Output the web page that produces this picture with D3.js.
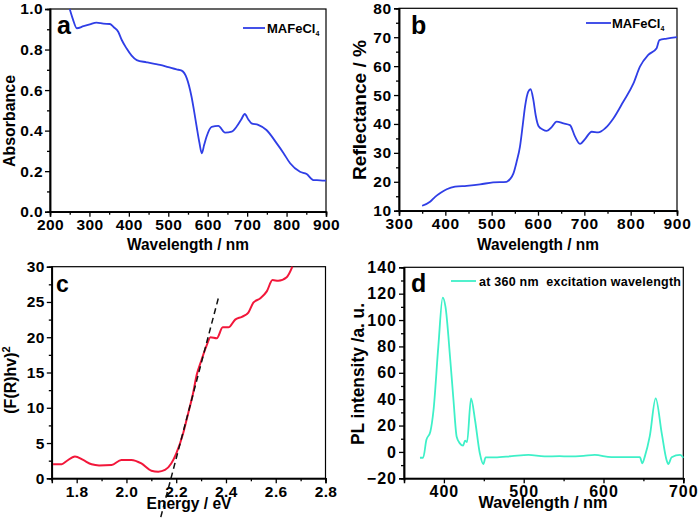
<!DOCTYPE html>
<html><head><meta charset="utf-8">
<script src="https://cdn.jsdelivr.net/npm/d3@7"></script>
<style>
html,body{margin:0;padding:0;background:#fff;}
svg text{font-family:"Liberation Sans",Arial,sans-serif;font-weight:bold;fill:#000;}
</style></head>
<body>
<svg id="chart" width="698" height="520"></svg>
<script>
// ---- Panel a: absorbance ----
const aWavelength = [250,258,268,285,301,318,335,352,362,373,382,394,407,420,445,462,479,500,521,534,547,559,566,572,579,585,591,597,610,627,644,661,673,685,694,703,711,728,749,775,792,809,834,851,868,885,900];
const aAbsorbance = [1.0,0.95,0.905,0.915,0.924,0.933,0.928,0.926,0.91,0.888,0.847,0.806,0.77,0.748,0.737,0.730,0.724,0.713,0.702,0.696,0.658,0.567,0.49,0.419,0.34,0.288,0.33,0.37,0.419,0.423,0.39,0.395,0.419,0.455,0.482,0.455,0.436,0.428,0.403,0.337,0.29,0.239,0.197,0.186,0.156,0.155,0.153];
// ---- Panel b: reflectance ----
const bWavelength = [350,367,378,390,403,421,446,475,503,532,540,547,554,561,567,572,579,584,590,595,601,610,619,630,640,655,669,680,691,701,716,730,745,763,784,806,820,838,856,862,878,900];
const bReflectance = [11.7,13.1,14.8,16.2,17.4,18.3,18.6,19.1,19.8,20.0,21.0,22.9,27,32.1,39.5,46,51.2,52,48.3,43,39.3,38.1,37.6,39,40.8,40.2,39.6,35.6,33.1,34.7,37.3,37.1,38.5,42,47.7,54,59.8,63.9,66.2,69,69.5,70];
// ---- Panel c: (F(R)hv)^2 ----
const cEnergy = [1.705,1.74,1.76,1.793,1.826,1.86,1.89,1.94,1.98,2.02,2.06,2.1,2.128,2.155,2.18,2.2,2.228,2.248,2.268,2.282,2.302,2.322,2.338,2.363,2.387,2.41,2.437,2.464,2.49,2.51,2.537,2.564,2.587,2.61,2.644,2.667];
const cValue = [2.0,2.0,2.45,3.1,2.6,1.98,1.83,1.9,2.6,2.6,2.1,1.08,0.94,1.18,2.1,3.5,6.4,9.2,12.1,14.6,16.8,18.8,20.0,19.85,21.4,21.4,22.5,22.9,23.5,24.9,25.5,26.5,28.1,28.0,28.5,30];
const fitEnergy = [2.138,2.369];
const fitValue = [-5.5,25.5];
// ---- Panel d: PL ----
const dWavelength = [370,374,378,383,387,393,398.5,402,408,412,416,420,424,426.5,429,434,439,445,449.4,452.3,464,485,506,526,545,556,575,589,610,630,645.6,648.6,652,658,665.4,673,679,681.2,685.4,696,700];
const dIntensity = [-4.4,-4.4,9,15.3,31.8,79.8,117,110,69.7,39.4,11.5,6.5,4.8,8.5,7.5,40.6,24.2,-1,-9.2,-4.1,-4.1,-3.2,-2.3,-3.4,-3.2,-3.4,-3,-2.3,-4,-4,-4,-8.6,-3,12,40.6,14,-6.1,-9.2,-4.1,-2.3,-4.4];

// tick values
const aXTicks = [200,300,400,500,600,700,800,900];
const aYTicks = [0,0.2,0.4,0.6,0.8,1.0];
const bXTicks = [300,400,500,600,700,800,900];
const bYTicks = [10,20,30,40,50,60,70,80];
const cXTicks = [1.8,2.0,2.2,2.4,2.6,2.8];
const cYTicks = [0,5,10,15,20,25,30];
const dXTicks = [400,500,600,700];
const dYTicks = [-20,0,20,40,60,80,100,120,140];

const svg = d3.select("#chart");

function panel(o){
  const g = svg.append("g");
  const x = d3.scaleLinear().domain(o.xDomain).range([o.left,o.right]);
  const y = d3.scaleLinear().domain(o.yDomain).range([o.bottom,o.top]);
  g.append("rect").attr("x",o.left).attr("y",o.top).attr("width",o.right-o.left).attr("height",o.bottom-o.top)
    .attr("fill","none").attr("stroke","#000").attr("stroke-width",1.2);
  const xm = g.append("g").attr("transform",`translate(0,${o.bottom})`)
    .call(d3.axisBottom(x).tickValues(o.xMinor).tickSize(3).tickFormat(""));
  const ym = g.append("g").attr("transform",`translate(${o.left},0)`)
    .call(d3.axisLeft(y).tickValues(o.yMinor).tickSize(3).tickFormat(""));
  const xa = g.append("g").attr("transform",`translate(0,${o.bottom})`)
    .call(d3.axisBottom(x).tickValues(o.xTicks).tickSize(5).tickPadding(2).tickFormat(o.xFmt));
  const ya = g.append("g").attr("transform",`translate(${o.left},0)`)
    .call(d3.axisLeft(y).tickValues(o.yTicks).tickSize(5).tickPadding(2).tickFormat(o.yFmt));
  [xm,ym,xa,ya].forEach(a=>{a.select(".domain").attr("stroke","#000").attr("stroke-width",1.5);
    a.selectAll(".tick line").attr("stroke","#000").attr("stroke-width",1.3);});
  xa.selectAll("text").attr("font-size",o.tickFs).attr("font-family",null).style("letter-spacing",o.tickLs+"px").attr("dy","0.75em");
  ya.selectAll("text").attr("font-size",o.tickFs).attr("font-family",null).style("letter-spacing",o.tickLs+"px");
  return {g,x,y};
}

function drawLine(p, xs, ys, color, w){
  const pts = xs.map((v,i)=>[v,ys[i]]);
  p.g.append("path").datum(pts)
    .attr("d", d3.line().x(d=>p.x(d[0])).y(d=>p.y(d[1])).curve(d3.curveMonotoneX))
    .attr("fill","none").attr("stroke",color).attr("stroke-width",w).attr("stroke-linejoin","round");
}

function legend(x1,x2,y,color,tx,label,sub,fs){
  svg.append("line").attr("x1",x1).attr("x2",x2).attr("y1",y).attr("y2",y).attr("stroke",color).attr("stroke-width",1.8);
  const t = svg.append("text").attr("x",tx).attr("y",y+4.5).attr("font-size",fs).text(label);
  if(sub) t.append("tspan").attr("font-size",7).attr("dy",3).text(sub);
  return t;
}

function title(x,y,rot,txt,fs,len){
  const t = svg.append("text").attr("text-anchor","middle").attr("font-size",fs)
    .attr("transform",`translate(${x},${y}) rotate(${rot})`).text(txt);
  if(len) t.attr("textLength",len).attr("lengthAdjust","spacingAndGlyphs");
  return t;
}

// Panel a
const pa = panel({left:50,right:326,top:9,bottom:211.7,xDomain:[200,900],yDomain:[0,1],
  xTicks:aXTicks,yTicks:aYTicks,xMinor:d3.range(250,900,100),yMinor:d3.range(0.1,1,0.2),
  xFmt:d3.format("d"),yFmt:d3.format(".1f"),tickFs:15.5,tickLs:0.4});
drawLine(pa,aWavelength,aAbsorbance,"#2f3ee6",1.8);
// Panel b
const pb = panel({left:399,right:677,top:8.3,bottom:210.7,xDomain:[300,900],yDomain:[10,80],
  xTicks:bXTicks,yTicks:bYTicks,xMinor:d3.range(350,900,100),yMinor:d3.range(15,80,10),
  xFmt:d3.format("d"),yFmt:d3.format("d"),tickFs:15.5,tickLs:0.8});
drawLine(pb,bWavelength,bReflectance,"#2f3ee6",1.8);
// Panel c
const pc = panel({left:51.8,right:325.5,top:266.7,bottom:478.3,xDomain:[1.7,2.8],yDomain:[0,30],
  xTicks:cXTicks,yTicks:cYTicks,xMinor:[1.7,1.9,2.1,2.3,2.5,2.7],yMinor:d3.range(2.5,30,5),
  xFmt:d3.format(".1f"),yFmt:d3.format("d"),tickFs:15.5,tickLs:0.4});
drawLine(pc,cEnergy,cValue,"#f2173a",2);
pc.g.append("path").datum(fitEnergy.map((v,i)=>[v,fitValue[i]]))
  .attr("d",d3.line().x(d=>pc.x(d[0])).y(d=>pc.y(d[1])))
  .attr("stroke","#111").attr("stroke-width",1.5).attr("stroke-dasharray","6,4").attr("fill","none");
// Panel d
const pd = panel({left:404,right:683.3,top:267.3,bottom:478.3,xDomain:[350,700],yDomain:[-20,140],
  xTicks:dXTicks,yTicks:dYTicks,xMinor:[450,550,650],yMinor:d3.range(-10,140,20),
  xFmt:d3.format("d"),yFmt:d3.format("d"),tickFs:16,tickLs:1.0});
drawLine(pd,dWavelength,dIntensity,"#3ef0c8",1.8);

// Panel letters
svg.append("text").attr("x",57).attr("y",34).attr("font-size",25).text("a");
svg.append("text").attr("x",411).attr("y",34).attr("font-size",25).text("b");
svg.append("text").attr("x",56).attr("y",292).attr("font-size",23).text("c");
svg.append("text").attr("x",411).attr("y",292).attr("font-size",25).text("d");

// Legends
legend(243,265,28,"#2f3ee6",267,"MAFeCl","4",13);
legend(586,611,23,"#2f3ee6",612,"MAFeCl","4",13);
legend(451,476,281,"#3ef0c8",479,"at 360 nm\u00a0\u00a0excitation wavelength",null,12.5).attr("textLength",202).attr("lengthAdjust","spacing");

// Axis titles
title(188,250,0,"Wavelength / nm",16,122);
title(538,250,0,"Wavelength / nm",16,122);
title(189,509,0,"Energy / eV",16,85);
title(543,508,0,"Wavelength / nm",17,129);
title(15,121,-90,"Absorbance",17,92);
title(366,110,-90,"Reflectance / %",18,140);
title(364,374,-90,"PL intensity /a. u.",18,142);
const ct = svg.append("text").attr("text-anchor","middle").attr("font-size",16)
  .attr("transform","translate(16,380) rotate(-90)");
ct.append("tspan").text("(F(R)hv)");
ct.append("tspan").attr("font-size",11).attr("dy",-6).text("2");
</script>
</body></html>
